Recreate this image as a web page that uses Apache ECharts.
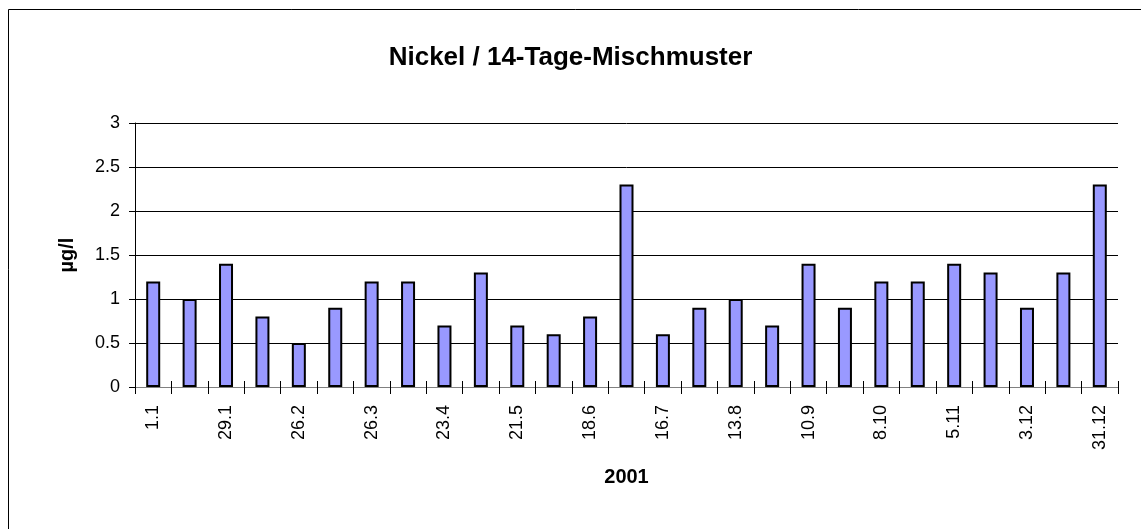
<!DOCTYPE html>
<html>
<head>
<meta charset="utf-8">
<script src="https://cdn.jsdelivr.net/npm/echarts@6/dist/echarts.min.js"></script>
<style>
html,body{margin:0;padding:0;background:#fff;}
#c{width:1141px;height:529px;}
</style>
</head>
<body>
<div id="c"></div>
<script>
const categories = ["1.1","15.1","29.1","12.2","26.2","12.3","26.3","9.4","23.4","7.5","21.5","4.6","18.6","2.7","16.7","30.7","13.8","27.8","10.9","24.9","8.10","22.10","5.11","19.11","3.12","17.12","31.12"];
const nickel = [1.2,1.0,1.4,0.8,0.5,0.9,1.2,1.2,0.7,1.3,0.7,0.6,0.8,2.3,0.6,0.9,1.0,0.7,1.4,0.9,1.2,1.2,1.4,1.3,0.9,1.3,2.3];
const titleText = "Nickel / 14-Tage-Mischmuster";
const yName = "µg/l";
const xName = "2001";

const font = "'Liberation Sans', Arial, sans-serif";
const chart = echarts.init(document.getElementById('c'), null, {renderer:'canvas'});
chart.setOption({
  animation:false,
  backgroundColor:'#fff',
  textStyle:{fontFamily:font},
  title:{
    text:titleText, left:'center', top:40,
    textStyle:{fontFamily:font,fontSize:26,fontWeight:'bold',color:'#000'}
  },
  graphic:[{
    type:'rect', shape:{x:8.5,y:9.5,width:1300,height:700},
    style:{fill:null,stroke:'#000',lineWidth:1}, silent:true
  }],
  grid:{left:135,right:23,top:123,bottom:142,containLabel:false},
  xAxis:[{
    type:'category', data:categories, boundaryGap:true,
    name:xName, nameLocation:'middle', nameGap:80,
    nameTextStyle:{fontFamily:font,fontSize:20,fontWeight:'bold',color:'#000'},
    axisLine:{lineStyle:{color:'#808080',width:1}},
    axisTick:{show:true,interval:0,length:7,lineStyle:{color:'#000'}},
    axisLabel:{interval:1,rotate:90,fontSize:18,color:'#000',fontFamily:font,margin:18},
    splitLine:{show:false}
  },{
    type:'category', data:categories, position:'bottom', boundaryGap:true,
    axisLine:{show:false},
    axisTick:{show:true,interval:0,inside:true,length:6,lineStyle:{color:'#000'}},
    axisLabel:{show:false}, splitLine:{show:false}
  }],
  yAxis:{
    type:'value', min:0, max:3, interval:0.5,
    name:yName, nameLocation:'middle', nameGap:58, nameRotate:90,
    nameTextStyle:{fontFamily:font,fontSize:20,fontWeight:'bold',color:'#000'},
    axisLine:{show:true,lineStyle:{color:'#000',width:1}},
    axisTick:{show:true,length:6,lineStyle:{color:'#000'}},
    axisLabel:{fontSize:18,color:'#000',fontFamily:font,margin:15},
    splitLine:{show:true,lineStyle:{color:'#000',width:1}}
  },
  series:[{
    type:'bar', data:nickel, xAxisIndex:0, barWidth:14,
    itemStyle:{color:'#9999FF',borderColor:'#000',borderWidth:2}
  }]
});
</script>
</body>
</html>
